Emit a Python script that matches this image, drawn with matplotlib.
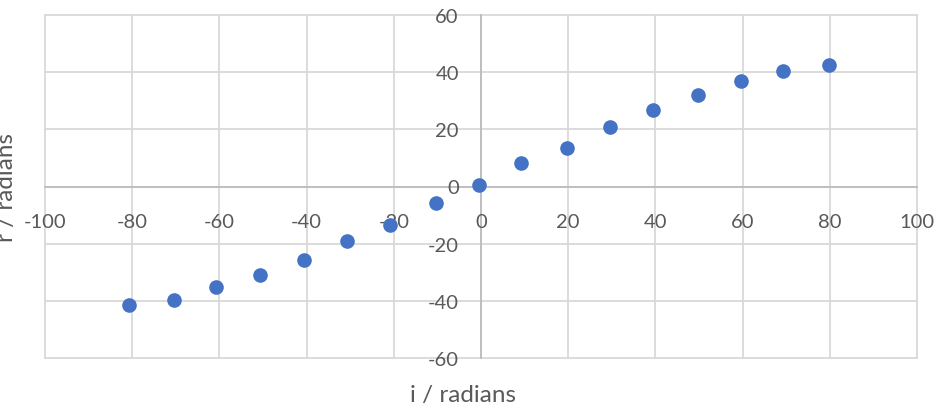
import matplotlib
matplotlib.use("Agg")
import matplotlib.pyplot as plt

# Data
i_vals = [-80.8, -70.5, -60.7, -50.7, -40.5, -30.8, -20.8, -10.3, -0.5,
          9.1, 19.8, 29.5, 39.4, 49.7, 59.6, 69.3, 79.9]
r_vals = [-41.5, -39.6, -35.2, -31.1, -25.6, -19.1, -13.5, -5.9, 0.5,
          8.1, 13.6, 20.8, 26.7, 32.1, 36.8, 40.4, 42.5]

x_ticks = [-100, -80, -60, -40, -20, 0, 20, 40, 60, 80, 100]
y_ticks = [-60, -40, -20, 0, 20, 40, 60]
x_title = "i / radians"
y_title = "r / radians"

W, H = 937, 414
fig = plt.figure(figsize=(W / 100, H / 100), dpi=100)
left, right, top, bottom = 45, 917, 16, 359
ax = fig.add_axes([left / W, 1 - bottom / H, (right - left) / W, (bottom - top) / H])

font = ["Lato", "DejaVu Sans"]
label_color = "#595959"
grid_color = "#d9d9d9"
axis_color = "#bfbfbf"

ax.set_xlim(-100, 100)
ax.set_ylim(-60, 60)

for x in x_ticks:
    ax.axvline(x, color=grid_color, lw=1.3, zorder=0, clip_on=False)
for y in y_ticks:
    ax.axhline(y, color=grid_color, lw=1.3, zorder=0, clip_on=False)

for s in ["top", "right"]:
    ax.spines[s].set_visible(False)
ax.spines["left"].set_position(("data", 0))
ax.spines["bottom"].set_position(("data", 0))
for s in ["left", "bottom"]:
    ax.spines[s].set_color(axis_color)
    ax.spines[s].set_linewidth(1.4)
    ax.spines[s].set_zorder(1)

ax.set_xticks(x_ticks)
ax.set_yticks(y_ticks)
ax.set_xticklabels([str(v) for v in x_ticks], family=font, fontsize=14.5, color=label_color)
ax.set_yticklabels([str(v) for v in y_ticks], family=font, fontsize=14.5, color=label_color)
ax.tick_params(axis="x", length=0, pad=19)
ax.tick_params(axis="y", length=0, pad=16)

ax.plot(i_vals, r_vals, linestyle="none", marker="o", ms=9.5,
        color="#4472C4", mec="#4472C4", zorder=3, clip_on=False)

fig.text(463 / W, 1 - 396 / H, x_title, ha="center", va="center",
         family=font, fontsize=17.5, color=label_color)
fig.text(13 / W, 1 - 187.5 / H, y_title, ha="center", va="baseline", rotation=90,
         rotation_mode="anchor", family=font, fontsize=17.5, color=label_color)

fig.savefig("out.png", dpi=100, facecolor="white")
